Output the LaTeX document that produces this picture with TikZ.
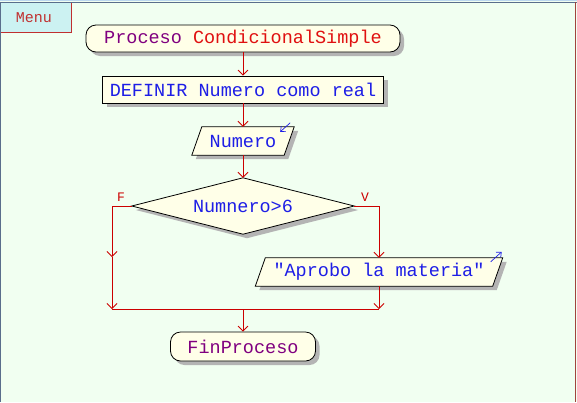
\documentclass[tikz,border=0pt]{standalone}
\usepackage{fontspec}
\setmonofont{Liberation Mono}
\usetikzlibrary{arrows.meta,shadows}
\definecolor{bgc}{HTML}{F1FFF1}
\definecolor{shapefill}{HTML}{FFFFE8}
\definecolor{shadowc}{HTML}{B4B4B4}
\definecolor{linec}{HTML}{CC0000}
\definecolor{bluet}{HTML}{1E1EE6}
\definecolor{purplet}{HTML}{800080}
\definecolor{redt}{HTML}{E01010}
\definecolor{menufill}{HTML}{CCF2F2}
\definecolor{menuborder}{HTML}{C03030}
\definecolor{frameline}{HTML}{5A6E8C}
\definecolor{framelight}{HTML}{BCD8F0}
\definecolor{framered}{HTML}{A0443C}
\tikzset{
  flowtext/.style={font=\ttfamily\fontsize{18.5}{20}\selectfont},
  shp/.style={draw=black, line width=0.8pt, fill=shapefill,
    general shadow={fill=shadowc, shadow xshift=4pt, shadow yshift=-4pt}},
  term/.style={shp, flowtext, rounded corners=10pt, inner sep=0pt},
  procbox/.style={shp, flowtext, inner sep=0pt, text=bluet},
  holder/.style={flowtext, inner sep=0pt, text=bluet},
  conn/.style={draw=linec, line width=0.8pt},
  arr/.style={conn, -{Straight Barb[length=5pt,width=10pt]}},
  icon/.style={draw=bluet, line width=0.7pt, -{Straight Barb[length=4pt,width=7pt]}},
  lbl/.style={font=\ttfamily\fontsize{13}{14}\selectfont, text=linec, inner sep=0pt}
}
\begin{document}
\begin{tikzpicture}[x=1pt,y=-1pt]
\fill[bgc] (0,0) rectangle (577,402);
\useasboundingbox (0,0) rectangle (577,402);
% frame
\draw[framelight, line width=1.2pt] (0,0.6) -- (577,0.6);
\draw[frameline, line width=1pt] (0,2) -- (577,2);
\draw[frameline, line width=1pt] (0.5,2) -- (0.5,402);
\draw[framered, line width=1.5pt] (575.5,2) -- (575.5,402);
% menu
\fill[menufill] (1,2.5) rectangle (71,32);
\draw[menuborder, line width=1pt] (71,2.5) -- (71,32) -- (1,32);
\node[font=\ttfamily\fontsize{15}{16}\selectfont, text=menuborder, inner sep=0pt] (menu) at (34,17.5) {Menu};

% shapes
\node[term, minimum width=314pt, minimum height=27pt] (start) at (243,38.5)
  {\textcolor{purplet}{Proceso} \textcolor{redt}{CondicionalSimple}};
\node[procbox, minimum width=281pt, minimum height=27pt] (def) at (243,89.5)
  {DEFINIR Numero como real};

\node[holder, minimum width=92pt, minimum height=28pt] (in) at (243,141) {};
\draw[shp] ([xshift=-5pt]in.south west) -- ([xshift=5pt]in.north west)
  -- ([xshift=5pt]in.north east) -- ([xshift=-5pt]in.south east) -- cycle;
\node[holder] (intext) at (in.center) {Numero};
\coordinate (inico1) at ([xshift=1pt,yshift=4pt]in.north east);
\coordinate (inico2) at ([xshift=-9pt,yshift=-5pt]in.north east);
\draw[icon] (inico1) -- (inico2);

\node[holder, minimum width=222pt, minimum height=56pt] (dia) at (243,206) {};
\draw[shp] (dia.west) -- (dia.north) -- (dia.east) -- (dia.south) -- cycle;
\node[holder] (diatext) at (dia.center) {Numnero>6};

\node[holder, minimum width=237pt, minimum height=28pt] (out) at (379,272) {};
\draw[shp] ([xshift=-5pt]out.south west) -- ([xshift=5pt]out.north west)
  -- ([xshift=5pt]out.north east) -- ([xshift=-5pt]out.south east) -- cycle;
\node[holder] (outtext) at (out.center) {"Aprobo la materia"};
\coordinate (outico1) at ([xshift=-7pt,yshift=-4pt]out.north east);
\coordinate (outico2) at ([xshift=4pt,yshift=6pt]out.north east);
\draw[icon] (outico1) -- (outico2);

\node[term, minimum width=145pt, minimum height=29pt, text=purplet] (fin) at (243,346.5) {FinProceso};

% connector points
\coordinate (fcorner) at (112,206);
\coordinate (fmid) at (112,257);
\coordinate (fbot) at (112,309);
\coordinate (vbot) at (379,309);
\coordinate (join) at (243,309);

% connectors
\draw[arr] (start.south) -- (def.north);
\draw[arr] (def.south) -- (in.north);
\draw[arr] (in.south) -- (dia.north);
\draw[conn] (dia.west) -- (fcorner);
\draw[arr] (fcorner) -- (fmid);
\draw[arr] (fmid) -- (fbot);
\draw[arr] (dia.east) -| (out.north);
\draw[arr] (out.south) -- (vbot);
\draw[conn] (fbot) -- (vbot);
\draw[arr] (join) -- (fin.north);

\node[lbl, anchor=south] (flbl) at (121,202) {F};
\node[lbl, anchor=south] (vlbl) at (365,202) {V};
\end{tikzpicture}
\end{document}
